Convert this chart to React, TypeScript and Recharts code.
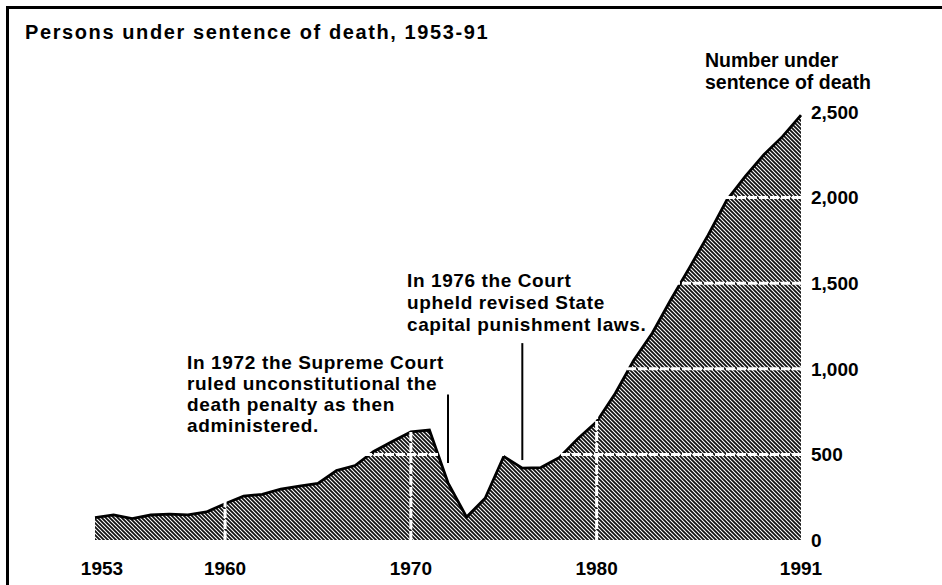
import React from 'react';
import { AreaChart, Area, XAxis, YAxis, ReferenceLine } from 'recharts';

const years = [1953, 1954, 1955, 1956, 1957, 1958, 1959, 1960, 1961, 1962, 1963, 1964, 1965, 1966, 1967, 1968, 1969, 1970, 1971, 1972, 1973, 1974, 1975, 1976, 1977, 1978, 1979, 1980, 1981, 1982, 1983, 1984, 1985, 1986, 1987, 1988, 1989, 1990, 1991];
const underSentence = [131, 147, 125, 146, 151, 147, 164, 212, 257, 267, 297, 315, 331, 406, 435, 517, 575, 631, 642, 334, 134, 244, 488, 420, 423, 482, 593, 691, 856, 1050, 1209, 1405, 1591, 1781, 1984, 2124, 2250, 2356, 2482];
const xTicks = [1953, 1960, 1970, 1980, 1991];
const yTicks = [0, 500, 1000, 1500, 2000, 2500];
const gridYears = [1960, 1970, 1980];
const gridValues = [500, 1000, 1500, 2000];
const title = 'Persons under sentence of death, 1953-91';
const axisTitle = ['Number under', 'sentence of death'];
const note1972 = ['In 1972 the Supreme Court', 'ruled unconstitutional the', 'death penalty as then', 'administered.'];
const note1976 = ['In 1976 the Court', 'upheld revised State', 'capital punishment laws.'];
const marker1972 = [{ x: 1972, y: 450 }, { x: 1972, y: 850 }];
const marker1976 = [{ x: 1976, y: 467 }, { x: 1976, y: 1150 }];

const data = years.map((y, i) => ({ year: y, value: underSentence[i] }));

const FONT = '"Liberation Sans", Arial, Helvetica, sans-serif';

const XTick = (props: any) => {
  const { x, y, payload, index } = props;
  const dx = index === 0 ? 7 : 0;
  return (
    <text x={x + dx} y={y} dy="0.71em" textAnchor="middle" fontFamily={FONT} fontWeight="bold" fontSize={19} fill="#000">
      {payload.value}
    </text>
  );
};

const fmt = (v: number) => v.toLocaleString('en-US');

export default function App() {
  return (
    <div style={{ position: 'absolute', left: 0, top: 0, width: 942, height: 585, background: '#fff', overflow: 'hidden' }}>
      <div style={{ position: 'absolute', left: 6, top: 6, width: 960, height: 600, borderTop: '3px solid #000', borderLeft: '3px solid #000' }} />
      <AreaChart width={942} height={585} data={data} margin={{ top: 112, right: 81, bottom: 15, left: 95 }} style={{ position: 'absolute', left: 0, top: 0 }}>
        <defs>
          <pattern id="hatch" patternUnits="userSpaceOnUse" width="4" height="4">
            <rect width="4" height="4" fill="#fff" />
            <path d="M-1,-1 L5,5 M-1,3 L1,5 M3,-1 L5,1" stroke="#111" strokeWidth="1.8" />
          </pattern>
        </defs>
        <XAxis dataKey="year" type="number" domain={[1953, 1991]} ticks={xTicks} axisLine={false} tickLine={false} tickSize={0} tickMargin={22} height={30} tick={<XTick />} interval={0} />
        <YAxis orientation="right" domain={[0, 2500]} ticks={yTicks} axisLine={false} tickLine={false} tickSize={0} tickMargin={10} width={60} tickFormatter={fmt} tick={{ fontFamily: FONT, fontWeight: 'bold', fontSize: 19, fill: '#000' }} interval={0} />
        <Area type="linear" dataKey="value" stroke="none" fill="url(#hatch)" fillOpacity={1} isAnimationActive={false} />
        {gridValues.map((v) => (
          <ReferenceLine key={'h' + v} y={v} stroke="#fff" strokeWidth={3} strokeDasharray="9 2" />
        ))}
        {gridYears.map((v) => (
          <ReferenceLine key={'v' + v} x={v} stroke="#fff" strokeWidth={3} strokeDasharray="9 2" />
        ))}
        <Area type="linear" dataKey="value" stroke="#000" strokeWidth={2.8} fill="none" isAnimationActive={false} />
        <ReferenceLine segment={marker1972} stroke="#000" strokeWidth={2} />
        <ReferenceLine segment={marker1976} stroke="#000" strokeWidth={2} />
      </AreaChart>
      <svg width={942} height={585} style={{ position: 'absolute', left: 0, top: 0, pointerEvents: 'none' }}>
        <g fontFamily={FONT} fontWeight="bold" fill="#000">
          <text x={25} y={39} fontSize={20} letterSpacing={1.6}>{title}</text>
          {axisTitle.map((t, i) => (
            <text key={t} x={705} y={67 + i * 22} fontSize={19.5}>{t}</text>
          ))}
          {note1972.map((t, i) => (
            <text key={t} x={187} y={369 + i * 21} fontSize={19} letterSpacing={0.65}>{t}</text>
          ))}
          {note1976.map((t, i) => (
            <text key={t} x={407} y={287 + i * 22} fontSize={19} letterSpacing={0.6}>{t}</text>
          ))}
        </g>
      </svg>
    </div>
  );
}
